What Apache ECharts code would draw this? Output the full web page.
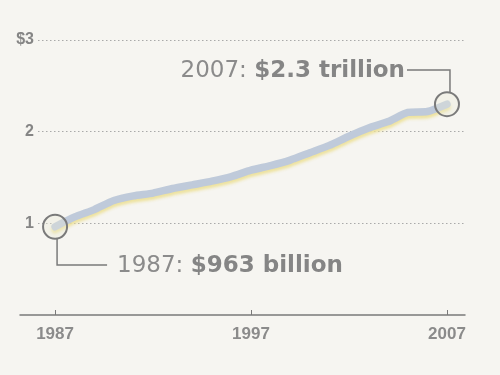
<!DOCTYPE html>
<html><head><meta charset="utf-8">
<script src="https://cdn.jsdelivr.net/npm/echarts@6/dist/echarts.min.js"></script>
<style>html,body{margin:0;padding:0;background:#f6f5f1;}#c{width:500px;height:375px;}</style>
</head><body><div id="c"></div>
<script>
var years = [1987,1988,1989,1990,1991,1992,1993,1994,1995,1996,1997,1998,1999,2000,2001,2002,2003,2004,2005,2006,2007];
var values = [0.963,1.07,1.15,1.25,1.30,1.33,1.38,1.42,1.46,1.51,1.58,1.63,1.69,1.77,1.85,1.95,2.04,2.11,2.21,2.22,2.30];
var xTickLabels = [1987,1997,2007];
var yTicks = [0,1,2,3];
var startNote = {year:1987, value:0.963, lead:'1987: ', strong:'$963 billion'};
var endNote = {year:2007, value:2.3, lead:'2007: ', strong:'$2.3 trillion'};

var grey = '#8b8b8b';
var chart = echarts.init(document.getElementById('c'), null, {renderer:'canvas'});
var option = {
  backgroundColor:'#f6f5f1',
  animation:false,
  grid:[
    {left:38,right:35,top:40,bottom:60},
    {left:20,right:35,top:40,bottom:60}
  ],
  xAxis:[
    {gridIndex:0,type:'value',min:1986,max:2008,show:false},
    {gridIndex:1,type:'value',min:1985.21,max:2007.92,
     axisLine:{show:true,lineStyle:{color:'#7a7a7a',width:1.5}},
     axisTick:{show:true,customValues:xTickLabels,length:5,inside:true,lineStyle:{color:'#7a7a7a',width:1}},
     splitLine:{show:false},
     axisLabel:{customValues:xTickLabels,margin:11,color:grey,fontWeight:'bold',fontSize:17,
       fontFamily:'"Liberation Sans Narrow","Liberation Sans",sans-serif',formatter:function(v){return String(v);}}}
  ],
  yAxis:[
    {gridIndex:0,type:'value',min:0,max:3,interval:1,
     axisLine:{show:false},axisTick:{show:false},
     splitLine:{show:true,showMinLine:false,lineStyle:{color:'#a9a9a9',type:[1.5,2.5],width:1}},
     axisLabel:{margin:4,color:'#858585',fontWeight:'bold',fontSize:16,
       fontFamily:'"Liberation Sans Narrow","Liberation Sans",sans-serif',
       formatter:function(v){return v===0?'':(v===3?'$3':String(v));}}},
    {gridIndex:1,type:'value',min:0,max:3,show:false}
  ],
  series:[{
    type:'line',xAxisIndex:1,yAxisIndex:1,
    data:years.map(function(y,i){return [y,values[i]];}),
    smooth:0.2,showSymbol:false,
    lineStyle:{color:'#bfcada',width:7.5,cap:'round',join:'round',
      shadowColor:'rgba(236,224,150,0.9)',shadowBlur:3,shadowOffsetY:3},
    markPoint:{
      symbol:'circle',symbolSize:24,silent:true,
      itemStyle:{color:'rgba(235,235,215,0.35)',borderColor:'#7a7a7a',borderWidth:2},
      label:{show:false},
      data:[{coord:[startNote.year,startNote.value]},{coord:[endNote.year,endNote.value]}]
    }
  }]
};
chart.setOption(option);

var p0 = chart.convertToPixel({xAxisIndex:1,yAxisIndex:1},[startNote.year,startNote.value]);
var p1 = chart.convertToPixel({xAxisIndex:1,yAxisIndex:1},[endNote.year,endNote.value]);
var lc = '#7a7a7a';
var rich = {
  a:{fontFamily:'"DejaVu Sans",sans-serif',fontSize:23,fill:grey,color:grey},
  b:{fontFamily:'"DejaVu Sans",sans-serif',fontSize:23,fontWeight:'bold',fill:'#858585',color:'#858585'}
};
chart.setOption({graphic:[
  {type:'polyline',shape:{points:[[p1[0]+3,p1[1]-12],[p1[0]+3,70],[p1[0]-40,70]]},style:{stroke:lc,lineWidth:1.5,fill:null}},
  {type:'text',x:p1[0]-42,y:71,style:{text:'{a|'+endNote.lead+'}{b|'+endNote.strong+'}',rich:rich,align:'right',verticalAlign:'middle'}},
  {type:'polyline',shape:{points:[[p0[0]+2,p0[1]+12],[p0[0]+2,265],[p0[0]+52,265]]},style:{stroke:lc,lineWidth:1.5,fill:null}},
  {type:'text',x:p0[0]+62,y:266,style:{text:'{a|'+startNote.lead+'}{b|'+startNote.strong+'}',rich:rich,align:'left',verticalAlign:'middle'}}
]});
</script></body></html>
